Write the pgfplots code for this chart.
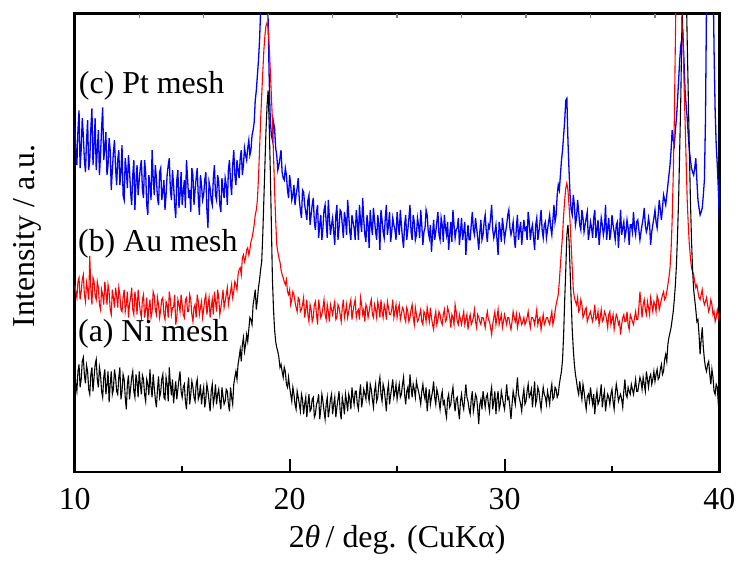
\documentclass[border=0pt]{standalone}
\usepackage{fontspec}
\setmainfont{Liberation Serif}
\usepackage{pgfplots}
\usepackage{pgfplotstable}
\pgfplotsset{compat=1.18}
\newcommand\fs{\fontsize{16bp}{19bp}\selectfont}

% y values are read in picture rows (top of frame = 13, bottom = 473)
\pgfplotstableread{
x a b c
10.0 370 285 125
10.05 385 292 148
10.1 392 298 165
10.15 372 282 130
10.2 365 278 110
10.25 388 300 168
10.3 380 292 150
10.35 362 280 118
10.4 358 275 135
10.45 376 295 160
10.5 384 302 172
10.55 366 283 140
10.6 372 290 120
10.65 390 300 170
10.7 395 256 160
10.75 375 290 128
10.8 368 305 108
10.85 392 278 165
10.9 378 282 145
10.95 365 296 118
11.0 360 300 170
11.05 380 282 150
11.1 388 288 130
11.15 368 305 175
11.2 375 310 155
11.25 392 290 128
11.3 398 295 107
11.35 378 305 160
11.4 370 282 148
11.45 395 292 132
11.5 385 305 175
11.55 372 285 165
11.6 403 292 138
11.65 385 310 150
11.7 372 315 190
11.75 395 290 170
11.8 390 298 152
11.85 370 308 140
11.9 378 288 168
11.95 392 296 185
12.0 395 308 160
12.05 378 288 150
12.1 368 295 185
12.15 400 310 172
12.2 392 312 145
12.25 375 298 195
12.3 380 290 200
12.35 398 312 158
12.4 410 305 170
12.45 385 292 188
12.5 376 318 155
12.55 400 305 170
12.6 389 298 192
12.65 378 288 205
12.7 372 310 175
12.75 392 315 160
12.8 398 292 210
12.85 375 300 182
12.9 383 315 165
12.95 398 290 195
13.0 372 302 180
13.05 385 312 168
13.1 395 318 160
13.15 376 300 190
13.2 380 295 198
13.25 395 318 160
13.3 402 310 172
13.35 380 298 205
13.4 385 322 215
13.45 396 308 175
13.5 370 300 185
13.55 388 318 200
13.6 398 312 150
13.65 375 292 178
13.7 388 296 195
13.75 400 310 165
13.8 408 315 178
13.85 390 298 198
13.9 377 305 205
13.95 398 318 172
14.0 393 310 168
14.05 380 300 200
14.1 375 298 192
14.15 398 315 180
14.2 400 320 210
14.25 378 302 195
14.3 385 305 175
14.35 402 318 165
14.4 368 292 158
14.45 385 300 190
14.5 396 315 200
14.55 380 308 170
14.6 404 308 185
14.65 392 295 205
14.7 382 325 218
14.75 400 318 180
14.8 390 300 170
14.85 380 305 208
14.9 372 312 195
14.95 392 295 172
15.0 398 305 205
15.05 388 315 192
15.1 385 318 180
15.15 402 300 208
15.2 410 298 160
15.25 390 312 178
15.3 378 312 198
15.35 405 295 190
15.4 395 300 212
15.45 382 315 168
15.5 388 322 175
15.55 398 308 205
15.6 402 305 190
15.65 385 318 178
15.7 380 295 168
15.75 400 302 198
15.8 396 315 215
15.85 385 308 175
15.9 405 302 185
15.95 395 318 200
16.0 388 310 195
16.05 408 300 180
16.1 400 295 172
16.15 385 315 210
16.2 392 305 228
16.25 402 298 182
16.3 412 318 188
16.35 392 308 200
16.4 385 300 205
16.45 405 315 178
16.5 398 292 165
16.55 385 302 195
16.6 405 312 200
16.65 395 290 175
16.7 390 298 182
16.75 402 315 205
16.8 410 308 212
16.85 388 300 178
16.9 397 290 190
16.95 405 308 198
17.0 402 302 178
17.05 390 295 185
17.1 392 288 205
17.15 405 305 170
17.2 412 298 160
17.25 388 292 182
17.3 398 285 195
17.35 405 298 165
17.4 385 292 150
17.45 378 282 175
17.5 372 285 185
17.55 380 290 160
17.6 365 275 170
17.65 358 270 178
17.7 350 268 158
17.75 362 275 150
17.8 345 258 175
17.85 338 255 165
17.9 352 262 148
17.95 345 258 155
18.0 335 250 160
18.05 342 248 148
18.1 330 255 140
18.15 318 250 155
18.2 320 242 150
18.25 325 238 135
18.3 305 232 130
18.35 298 225 122
18.4 290 215 100
18.45 310 210 90
18.5 300 200 75
18.55 288 178 60
18.6 280 150 40
18.65 270 120 10
18.7 262 95 -40
18.75 235 72 -60
18.8 200 50 -60
18.85 165 35 -60
18.9 130 25 -50
18.95 105 22 -20
19.0 90 28 20
19.05 125 45 80
19.1 170 70 120
19.15 225 95 135
19.2 280 120 140
19.25 310 155 122
19.3 330 190 128
19.35 342 220 148
19.4 348 245 155
19.45 352 252 170
19.5 358 258 165
19.55 368 262 158
19.6 365 270 150
19.65 372 275 172
19.7 378 278 178
19.75 368 282 180
19.8 372 285 168
19.85 385 280 175
19.9 388 292 190
19.95 378 295 198
20.0 388 290 175
20.05 395 305 185
20.1 402 300 200
20.15 388 292 195
20.2 395 295 185
20.25 405 302 205
20.3 410 308 195
20.35 392 312 188
20.4 398 298 178
20.45 405 300 200
20.5 412 312 210
20.55 395 310 218
20.6 400 305 190
20.65 415 298 192
20.7 405 318 205
20.75 398 310 212
20.8 418 300 220
20.85 405 315 200
20.9 395 322 195
20.95 412 305 225
21.0 410 310 215
21.05 400 322 205
21.1 398 318 198
21.15 418 305 222
21.2 415 302 230
21.25 405 315 212
21.3 402 325 205
21.35 395 300 238
21.4 420 308 225
21.45 410 318 215
21.5 395 315 240
21.55 402 308 228
21.6 412 300 210
21.65 420 315 205
21.7 405 320 222
21.75 398 305 238
21.8 418 312 200
21.85 410 322 218
21.9 400 305 235
21.95 395 310 225
22.0 415 315 218
22.05 405 308 232
22.1 398 302 245
22.15 418 320 215
22.2 408 318 205
22.25 400 305 240
22.3 392 308 228
22.35 412 315 210
22.4 420 322 212
22.45 398 308 225
22.5 405 300 238
22.55 415 318 212
22.6 395 312 220
22.65 402 305 235
22.7 412 318 200
22.75 395 312 215
22.8 400 305 232
22.85 410 300 240
22.9 388 320 215
22.95 398 312 222
23.0 405 305 228
23.05 392 300 240
23.1 392 318 210
23.15 405 312 222
23.2 410 310 240
23.25 395 320 205
23.3 385 298 222
23.35 408 305 232
23.4 400 315 198
23.45 390 310 220
23.5 395 322 235
23.55 400 305 242
23.6 382 308 215
23.65 395 318 225
23.7 402 312 248
23.75 385 305 210
23.8 390 300 225
23.85 400 315 235
23.9 408 318 208
23.95 392 305 220
24.0 385 310 232
24.05 402 318 240
24.1 398 302 215
24.15 385 308 225
24.2 378 318 250
24.25 395 300 210
24.3 402 312 220
24.35 385 318 232
24.4 390 305 238
24.45 400 310 218
24.5 412 320 205
24.55 392 302 235
24.6 385 308 225
24.65 405 315 212
24.7 396 315 242
24.75 388 310 232
24.8 380 300 218
24.85 398 318 225
24.9 393 312 230
24.95 385 305 240
25.0 400 318 212
25.05 392 310 225
25.1 385 305 235
25.15 398 320 210
25.2 395 315 225
25.25 385 308 238
25.3 378 310 248
25.35 395 318 225
25.4 405 322 215
25.45 392 308 240
25.5 388 312 230
25.55 400 322 218
25.6 375 318 205
25.65 388 310 232
25.7 398 305 240
25.75 385 318 215
25.8 390 325 222
25.85 398 308 240
25.9 382 315 235
25.95 388 322 218
26.0 392 320 225
26.05 398 315 238
26.1 405 310 210
26.15 392 322 225
26.2 385 325 245
26.25 395 312 232
26.3 400 315 228
26.35 388 322 210
26.4 412 308 215
26.45 400 315 232
26.5 390 322 238
26.55 405 308 225
26.6 398 318 252
26.65 392 325 235
26.7 382 330 220
26.75 398 318 240
26.8 405 312 232
26.85 390 325 222
26.9 395 320 212
26.95 402 312 235
27.0 410 315 240
27.05 398 322 218
27.1 392 325 225
27.15 405 315 242
27.2 402 310 215
27.25 412 322 228
27.3 418 320 235
27.35 400 308 222
27.4 395 312 250
27.45 408 318 235
27.5 405 328 222
27.55 395 315 242
27.6 388 318 210
27.65 402 325 225
27.7 412 305 238
27.75 400 312 230
27.8 398 322 228
27.85 410 325 218
27.9 420 315 245
27.95 402 320 232
28.0 395 325 218
28.05 405 318 240
28.1 410 312 232
28.15 398 325 222
28.2 385 320 255
28.25 398 315 238
28.3 402 330 225
28.35 410 320 240
28.4 415 315 240
28.45 400 325 225
28.5 392 322 212
28.55 412 318 230
28.6 405 310 235
28.65 395 322 218
28.7 398 328 228
28.75 410 315 238
28.8 425 318 250
28.85 405 322 232
28.9 400 325 220
28.95 410 318 240
29.0 392 318 235
29.05 400 322 222
29.1 408 328 215
29.15 398 318 232
29.2 395 312 242
29.25 405 320 225
29.3 412 322 228
29.35 395 328 218
29.4 388 335 205
29.45 410 325 230
29.5 402 318 238
29.55 392 312 232
29.6 415 325 225
29.65 400 318 240
29.7 392 310 255
29.75 410 325 222
29.8 405 320 230
29.85 392 315 242
29.9 398 328 218
29.95 405 322 228
30.0 410 315 240
30.05 398 320 232
30.1 385 325 225
30.15 400 318 215
30.2 398 318 210
30.25 408 325 228
30.3 420 330 235
30.35 405 322 230
30.4 392 312 222
30.45 398 318 238
30.5 405 322 248
30.55 392 315 228
30.6 378 328 215
30.65 395 322 240
30.7 400 315 230
30.75 405 320 222
30.8 412 325 245
30.85 398 322 232
30.9 390 318 220
30.95 405 325 230
31.0 402 322 228
31.05 392 318 240
31.1 385 312 212
31.15 398 322 222
31.2 395 328 240
31.25 390 318 230
31.3 408 318 225
31.35 395 320 238
31.4 382 325 250
31.45 405 318 225
31.5 400 310 218
31.55 388 325 240
31.6 392 320 232
31.65 402 318 222
31.7 410 330 210
31.75 398 322 230
31.8 388 315 238
31.85 395 325 225
31.9 398 322 222
31.95 405 318 238
32.0 392 318 230
32.05 398 322 222
32.1 405 325 215
32.15 392 318 228
32.2 385 312 235
32.25 400 325 220
32.3 398 320 205
32.35 388 312 222
32.4 390 305 215
32.45 398 300 195
32.5 395 295 185
32.55 385 282 190
32.6 378 265 175
32.65 372 250 160
32.7 360 235 150
32.75 335 215 135
32.8 300 200 120
32.85 270 188 100
32.9 235 183 98
32.95 225 190 140
33.0 240 205 170
33.05 270 222 195
33.1 300 245 210
33.15 330 268 215
33.2 350 290 195
33.25 365 298 205
33.3 375 302 225
33.35 382 305 218
33.4 390 298 200
33.45 395 312 212
33.5 382 310 225
33.55 392 300 230
33.6 400 305 210
33.65 385 318 218
33.7 392 315 232
33.75 402 310 225
33.8 410 308 218
33.85 398 322 212
33.9 395 318 240
33.95 402 315 232
34.0 388 312 222
34.05 398 318 228
34.1 405 322 238
34.15 395 315 218
34.2 415 305 210
34.25 400 320 238
34.3 392 318 230
34.35 405 312 220
34.4 402 325 245
34.45 395 318 232
34.5 385 310 218
34.55 408 322 225
34.6 398 320 235
34.65 392 312 228
34.7 412 315 205
34.75 402 320 240
34.8 395 328 228
34.85 398 315 218
34.9 405 312 240
34.95 395 325 232
35.0 390 320 215
35.05 402 315 225
35.1 410 330 232
35.15 395 322 240
35.2 385 315 225
35.25 392 318 222
35.3 402 325 248
35.35 398 322 230
35.4 395 335 210
35.45 400 325 235
35.5 408 318 228
35.55 392 315 222
35.6 380 322 238
35.65 395 322 232
35.7 398 312 220
35.75 388 325 228
35.8 392 330 245
35.85 395 315 225
35.9 385 318 225
35.95 390 322 232
36.0 395 325 212
36.05 388 318 228
36.1 380 312 235
36.15 392 320 222
36.2 392 320 220
36.25 385 308 230
36.3 378 292 240
36.35 382 305 232
36.4 390 318 225
36.45 378 305 218
36.5 385 300 208
36.55 392 310 225
36.6 372 315 232
36.65 380 302 228
36.7 388 308 218
36.75 378 315 225
36.8 375 298 245
36.85 385 305 232
36.9 380 312 225
36.95 372 302 218
37.0 382 305 210
37.05 375 312 222
37.1 370 296 228
37.15 380 300 215
37.2 378 310 200
37.25 370 305 210
37.3 365 300 220
37.35 375 295 208
37.4 372 292 195
37.45 360 300 200
37.5 355 298 205
37.55 362 292 195
37.6 345 285 185
37.65 338 278 175
37.7 333 268 165
37.75 328 250 150
37.8 320 220 130
37.85 312 175 140
37.9 300 120 145
37.95 285 40 130
38.0 265 -40 118
38.05 235 -80 100
38.1 200 -80 80
38.15 150 -80 60
38.2 100 -60 45
38.25 30 -20 38
38.3 -40 40 33
38.35 -60 80 60
38.4 -60 120 90
38.45 -20 160 105
38.5 40 200 118
38.55 95 225 135
38.6 150 245 150
38.65 200 258 160
38.7 240 268 168
38.75 270 272 172
38.8 290 275 175
38.85 300 282 168
38.9 310 288 158
38.95 322 285 180
39.0 320 292 200
39.05 335 298 208
39.1 355 300 215
39.15 340 295 212
39.2 328 290 208
39.25 348 300 195
39.3 360 305 180
39.35 368 302 120
39.4 372 298 0
39.45 365 305 -60
39.5 362 312 -100
39.55 375 308 -100
39.6 385 300 -100
39.65 370 305 -80
39.7 378 315 -30
39.75 392 312 50
39.8 395 322 110
39.85 385 318 145
39.9 388 310 165
39.95 405 315 190
40.0 418 322 220
}\xrd

\begin{document}
\begin{tikzpicture}
\begin{axis}[
  name=main,
  scale only axis, width=323.5bp, height=230bp,
  xmin=10, xmax=40, ymin=13, ymax=473, y dir=reverse,
  xtick={10,20,30,40}, minor xtick={15,25,35}, ytick=\empty,
  xtick pos=left, tick align=inside,
  major tick length=6.5bp, minor tick length=3bp,
  tick style={black, line width=1bp},
  axis line style={line width=1.3bp},
  /pgf/number format/assume math mode=true,
  every tick label/.append style={font=\fs},
  xticklabel style={yshift=-4.5bp},
  label style={font=\fs},
  xlabel={2\textit{θ}\,/ deg. (CuKα)},
  xlabel style={at={(axis description cs:0.5,0)}, anchor=north, yshift=-23bp},
  ylabel={Intensity / a.u.},
  ylabel style={at={(axis description cs:-0.0618,0.515)}, anchor=base},
]
\addplot[blue, line width=0.65bp] table[x=x, y=c] {\xrd};
\addplot[red, line width=0.55bp] table[x=x, y=b] {\xrd};
\addplot[black, line width=0.55bp] table[x=x, y=a] {\xrd};
\node[anchor=base west, inner sep=0, font=\fs] at (axis cs:10.18,93) {(c) Pt mesh};
\node[anchor=base west, inner sep=0, font=\fs] at (axis cs:10.14,252) {(b) Au mesh};
\node[anchor=base west, inner sep=0, font=\fs] at (axis cs:10.14,342) {(a) Ni mesh};
\end{axis}
% small ticks along the top edge
\begin{axis}[
  at={(main.south west)}, anchor=south west,
  scale only axis, width=323.5bp, height=230bp,
  xmin=10, xmax=40, ymin=0, ymax=1,
  axis line style={draw=none}, ytick=\empty,
  xtick={13,16,...,37}, xticklabels={}, xtick pos=right,
  tick align=inside, major tick length=2bp,
  tick style={gray, line width=0.6bp},
]
\end{axis}
\path ([xshift=-37.5bp,yshift=-45bp]main.south west) rectangle ([xshift=10bp,yshift=6.5bp]main.north east);
\end{tikzpicture}
\end{document}
